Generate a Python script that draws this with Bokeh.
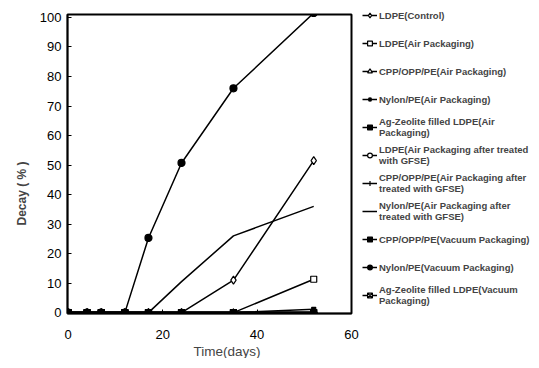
from bokeh.plotting import figure
from bokeh.models import Range1d, Legend, FixedTicker, Title
from bokeh.embed import file_html
from bokeh.resources import INLINE

days = [0, 4, 7, 12, 17, 24, 35, 52]

ldpe_control = [0, 0, 0, 0, 0, 0, 11, 51.5]
ldpe_air = [0, 0, 0, 0, 0, 0, 0, 11.3]
cpp_air = [0, 0, 0, 0, 0, 0, 0, 0]
nylon_air = [0, 0, 0, 0, 0, 0, 0, 0]
agz_air = [0, 0, 0, 0, 0, 0, 0, 0]
ldpe_gfse = [0, 0, 0, 0, 0, 0, 0, 0]
cpp_gfse = [0, 0, 0, 0, 0, 0, 0, 0]
nylon_gfse = [0, 0, 0, 0, 0, 10.5, 26, 36]
cpp_vac = [0, 0, 0, 0, 0, 0, 0, 1.1]
nylon_vac = [0, 0, 0, 0, 25.3, 50.7, 76, 101.5]
agz_vac = [0, 0, 0, 0, 0, 0, 0, 0]

labels = [
    "LDPE(Control)",
    "LDPE(Air Packaging)",
    "CPP/OPP/PE(Air Packaging)",
    "Nylon/PE(Air Packaging)",
    "Ag-Zeolite filled LDPE(Air\nPackaging)",
    "LDPE(Air Packaging after treated\nwith GFSE)",
    "CPP/OPP/PE(Air Packaging after\ntreated with GFSE)",
    "Nylon/PE(Air Packaging after\ntreated with GFSE)",
    "CPP/OPP/PE(Vacuum Packaging)",
    "Nylon/PE(Vacuum Packaging)",
    "Ag-Zeolite filled LDPE(Vacuum\nPackaging)",
]
x_ticks = [0, 20, 40, 60]
y_ticks = list(range(0, 101, 10))
x_title = "Time(days)"
y_title = "Decay ( % )"

series = [ldpe_control, ldpe_air, cpp_air, nylon_air, agz_air, ldpe_gfse,
          cpp_gfse, nylon_gfse, cpp_vac, nylon_vac, agz_vac]
# marker, filled, size
styles = [
    ("diamond", False, 8),
    ("square", False, 6),
    ("triangle", False, 6),
    ("asterisk", False, 7),
    ("square", True, 6),
    ("circle", False, 6),
    ("cross", False, 8),
    (None, False, 0),
    ("square", True, 4),
    ("circle", True, 7),
    ("square_x", False, 6),
]
# draw open markers first, filled ones on top
draw_order = [0, 1, 2, 3, 5, 6, 7, 10, 8, 4, 9]

FONT = "Liberation Sans"

p = figure(frame_width=284, frame_height=299, output_backend="svg",
           toolbar_location=None,
           x_range=Range1d(-0.15, 60), y_range=Range1d(-0.3, 101),
           min_border_left=67, min_border_top=14, min_border_bottom=39,
           min_border_right=172)

rend = {}
for i in draw_order:
    vals = series[i]
    mk, filled, sz = styles[i]
    rs = [p.line(days, vals, line_color="black", line_width=1.5)]
    if mk is not None:
        rs.append(p.scatter(days, vals, marker=mk, size=sz, line_color="black",
                            line_width=1.2,
                            fill_color="black" if filled else "white"))
    rend[i] = rs
items = [(labels[i], rend[i]) for i in range(len(series))]

legend = Legend(items=items, location=(11, 7), margin=0, padding=0,
                spacing=6, label_height=22, glyph_width=15, glyph_height=12,
                label_standoff=2, border_line_color=None,
                background_fill_alpha=0,
                label_text_font=FONT, label_text_font_size="9.5px",
                label_text_font_style="bold", label_text_line_height=1.1)
p.add_layout(legend, "right")

p.xaxis.ticker = FixedTicker(ticks=x_ticks)
p.yaxis.ticker = FixedTicker(ticks=y_ticks)
for ax in (p.xaxis[0], p.yaxis[0]):
    ax.major_tick_in = 4
    ax.major_tick_out = 0
    ax.minor_tick_line_color = None
    ax.axis_line_width = 1.5
    ax.major_label_text_font = FONT
    ax.major_label_text_font_size = "13px"
    ax.major_label_text_color = "black"
p.xaxis.major_label_standoff = 16
p.yaxis.major_label_standoff = 6

p.add_layout(Title(text=x_title, align="left", offset=126, text_font=FONT,
                   text_font_size="13.5px", text_font_style="normal",
                   standoff=0), "below")
p.add_layout(Title(text=y_title, align="left", offset=88, text_font=FONT,
                   text_font_size="12px", text_font_style="bold",
                   standoff=15), "left")

p.xgrid.grid_line_color = None
p.ygrid.grid_line_color = None
p.outline_line_color = "black"
p.outline_line_width = 2
p.outline_line_alpha = 1

open("out.html", "w").write(file_html(p, INLINE))
